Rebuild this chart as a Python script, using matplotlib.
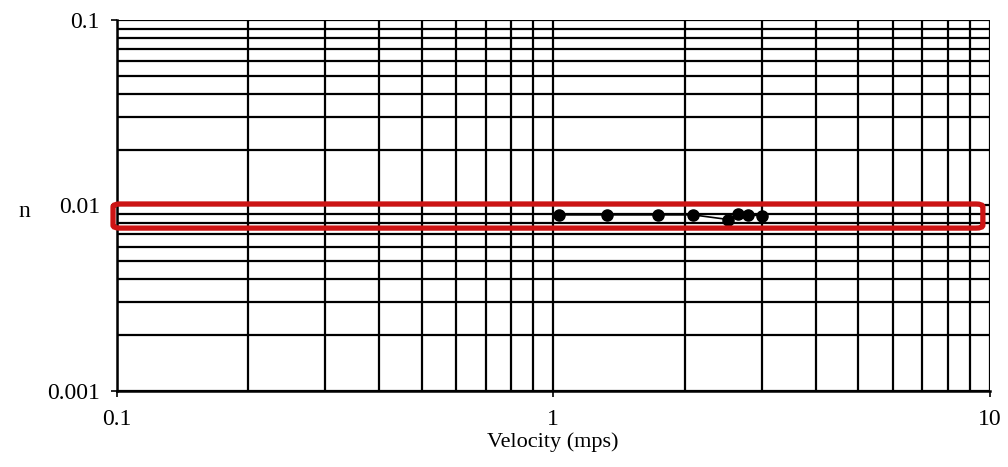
import numpy as np
import matplotlib.pyplot as plt
from matplotlib.patches import FancyBboxPatch
from matplotlib.ticker import LogLocator, NullFormatter, FixedLocator, FixedFormatter

# 数据：流速 (mps) 与糙率 n
velocity = [1.03, 1.33, 1.74, 2.09, 2.52, 2.65, 2.80, 3.00]
n_values = [0.0089, 0.0089, 0.0089, 0.0089, 0.0084, 0.0090, 0.0089, 0.0088]

x_ticks = [0.1, 1, 10]
x_labels = ['0.1', '1', '10']
y_ticks = [0.001, 0.01, 0.1]
y_labels = ['0.001', '0.01', '0.1']

plt.rcParams['font.family'] = ['Liberation Serif', 'DejaVu Serif']

fig = plt.figure(figsize=(10.08, 4.67), dpi=100)
ax = fig.add_axes([0.1156, 0.163, 0.8664, 0.794])

ax.set_xscale('log')
ax.set_yscale('log')
ax.set_xlim(0.1, 10)
ax.set_ylim(0.001, 0.1)

# 网格：主次刻度都画黑线
ax.xaxis.set_major_locator(FixedLocator(x_ticks))
ax.xaxis.set_major_formatter(FixedFormatter(x_labels))
ax.yaxis.set_major_locator(FixedLocator(y_ticks))
ax.yaxis.set_major_formatter(FixedFormatter(y_labels))
ax.xaxis.set_minor_locator(LogLocator(base=10, subs=np.arange(2, 10)))
ax.yaxis.set_minor_locator(LogLocator(base=10, subs=np.arange(2, 10)))
ax.xaxis.set_minor_formatter(NullFormatter())
ax.yaxis.set_minor_formatter(NullFormatter())
ax.grid(True, which='both', color='black', linewidth=1.6)
ax.set_axisbelow(True)

ax.tick_params(which='major', length=4, width=1.2, direction='out', labelsize=17)
ax.tick_params(axis='x', which='major', pad=9)
ax.tick_params(axis='y', which='major', pad=8)
ax.tick_params(which='minor', length=0)

for side in ['top', 'right']:
    ax.spines[side].set_visible(False)
for side in ['left', 'bottom']:
    ax.spines[side].set_linewidth(1.8)

# 数据点
ax.plot(velocity, n_values, '-', color='black', linewidth=1.2,
        marker='o', markersize=8, zorder=5)

# 红框标注
box = FancyBboxPatch((-0.004, 0.439), 0.996, 0.065,
                     boxstyle='round,pad=0,rounding_size=0.008',
                     transform=ax.transAxes, fill=False,
                     edgecolor='#cc1414', linewidth=3.8, clip_on=False, zorder=6)
ax.add_patch(box)

ax.set_xlabel('Velocity (mps)', fontsize=16, labelpad=2)
fig.text(0.018, 0.548, 'n', fontsize=17, va='center', ha='left')

fig.savefig('out.png', dpi=100)
